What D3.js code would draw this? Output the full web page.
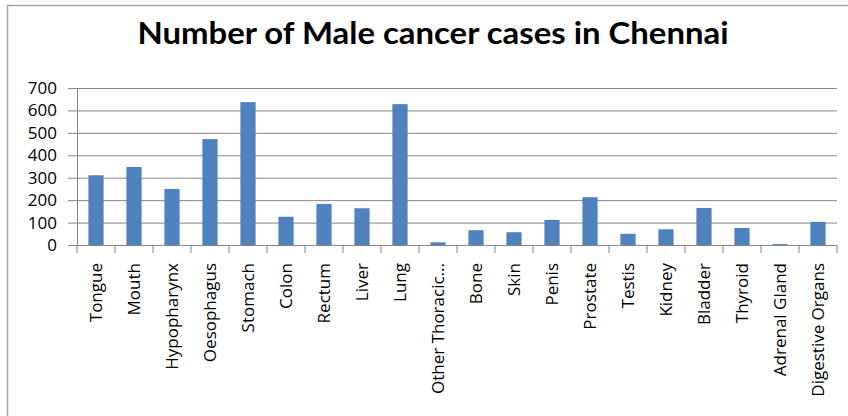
<!DOCTYPE html>
<html>
<head>
<meta charset="utf-8">
<script src="https://cdn.jsdelivr.net/npm/d3@7"></script>
<style>
  body { margin: 0; background: #fff; }
  svg { display: block; }
</style>
</head>
<body>
<script>
let width = 848
let height = 416

// data
let sites = ['Tongue', 'Mouth', 'Hypopharynx', 'Oesophagus', 'Stomach', 'Colon', 'Rectum',
  'Liver', 'Lung', 'Other Thoracic...', 'Bone', 'Skin', 'Penis', 'Prostate', 'Testis',
  'Kidney', 'Bladder', 'Thyroid', 'Adrenal Gland', 'Digestive Organs']
let cases = [311, 348, 250, 472, 637, 126, 183, 164, 628, 12, 66, 57, 112, 213, 50,
  70, 165, 76, 4, 103]
let yTicks = [0, 100, 200, 300, 400, 500, 600, 700]
let title = 'Number of Male cancer cases in Chennai'

let plotLeft = 77
let plotRight = 837
let plotTop = 88
let plotBottom = 245

let svg = d3.select('body').append('svg').attr('width', width).attr('height', height)

// chart frame
svg.append('rect')
   .attr('x', 7.5).attr('y', 5.5)
   .attr('width', width + 10).attr('height', height + 10)
   .attr('fill', 'none').attr('stroke', '#a6a6a6').attr('stroke-width', 1.5)

svg.append('text')
   .attr('x', 433).attr('y', 44)
   .attr('text-anchor', 'middle')
   .attr('font-family', 'Lato, sans-serif')
   .attr('font-weight', 'bold')
   .attr('font-size', 31)
   .attr('textLength', 591)
   .attr('lengthAdjust', 'spacingAndGlyphs')
   .attr('fill', '#000')
   .text(title)

let x = d3.scaleBand().domain(sites).range([plotLeft, plotRight]).paddingInner(0.6).paddingOuter(0.3)
let xTicks = d3.scaleBand().domain(sites).range([plotLeft, plotRight])
let y = d3.scaleLinear().domain([0, 700]).range([plotBottom, plotTop])

// y axis
let yAxis = d3.axisLeft(y).tickValues(yTicks).tickSize(9).tickPadding(11)
let gy = svg.append('g').attr('transform', 'translate(' + plotLeft + ',0)').call(yAxis)
gy.select('.domain').attr('stroke', '#868686')
gy.selectAll('.tick line').attr('stroke', '#868686')
gy.selectAll('.tick text')
  .attr('font-family', '"Open Sans", sans-serif').attr('font-size', 17).attr('fill', '#000')

// gridlines
svg.append('g')
   .selectAll('line')
   .data(yTicks.filter(d => d > 0))
   .enter()
   .append('line')
   .attr('x1', plotLeft).attr('x2', plotRight)
   .attr('y1', d => y(d) + 0.5).attr('y2', d => y(d) + 0.5)
   .attr('stroke', '#868686')

// bars
svg.append('g')
   .selectAll('rect')
   .data(cases)
   .enter()
   .append('rect')
   .attr('x', (d, i) => x(sites[i]))
   .attr('width', x.bandwidth())
   .attr('y', d => y(d))
   .attr('height', d => plotBottom - y(d))
   .attr('fill', '#4f81bd')

// x axis, ticks sit on the band edges
let gx = svg.append('g').attr('transform', 'translate(0,' + plotBottom + ')')
gx.append('line').attr('x1', plotLeft).attr('x2', plotRight).attr('y1', 0.5).attr('y2', 0.5)
  .attr('stroke', '#868686')
gx.selectAll('.edge')
  .data(sites.concat(['end']))
  .enter()
  .append('line')
  .attr('class', 'edge')
  .attr('x1', (d, i) => i < sites.length ? xTicks(d) : plotRight)
  .attr('x2', (d, i) => i < sites.length ? xTicks(d) : plotRight)
  .attr('y1', 0).attr('y2', 8)
  .attr('stroke', '#868686')

gx.selectAll('.lbl')
  .data(sites)
  .enter()
  .append('text')
  .attr('class', 'lbl')
  .attr('transform', d => 'translate(' + (xTicks(d) + xTicks.bandwidth() / 2 + 6) + ',18) rotate(-90)')
  .attr('text-anchor', 'end')
  .attr('font-family', '"Open Sans", sans-serif')
  .attr('font-size', 17)
  .attr('fill', '#000')
  .text(d => d)
</script>
</body>
</html>
